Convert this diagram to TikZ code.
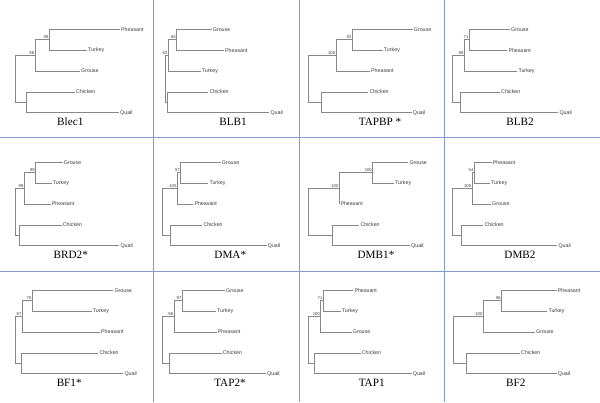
\documentclass[tikz,border=0pt]{standalone}
\usepackage{fontspec}
\setmainfont{Liberation Serif}
\newfontfamily\phsans{Liberation Sans}
\definecolor{gridc}{RGB}{130,155,205}
\definecolor{treec}{RGB}{135,135,135}
\definecolor{labc}{RGB}{60,60,60}
\def\phgetfour#1,#2,#3,#4\phend{\def\phxR{#1}\def\phxA{#2}\def\phxB{#3}\def\phxC{#4}}
\def\phgetfive#1,#2,#3,#4,#5\phend{\def\phtA{#1}\def\phtB{#2}\def\phtC{#3}\def\phtD{#4}\def\phtE{#5}}
\def\phgetthree#1,#2,#3\phend{\def\phnA{#1}\def\phnB{#2}\def\phnC{#3}}
\def\phgettwo#1,#2\phend{\def\phbB{#1}\def\phbA{#2}}
% #1 prefix, #2 top tip y, #3 {root,n1,n2,n3} x, #4 tip end x, #5 names, #6 {boot n2, boot n1}, #7 title, #8 title x
\newcommand\phylo[8]{%
  \phgetfour#3\phend \phgetfive#4\phend \phgetthree#5\phend \phgettwo#6\phend
  \pgfmathsetmacro\phyA{#2}
  \pgfmathsetmacro\phyB{#2+20.9}
  \pgfmathsetmacro\phyC{#2+41.7}
  \pgfmathsetmacro\phyD{#2+62.5}
  \pgfmathsetmacro\phyE{#2+83.4}
  \pgfmathsetmacro\phyNB{(\phyA+\phyB)/2}
  \pgfmathsetmacro\phyNA{(\phyNB+\phyC)/2}
  \pgfmathsetmacro\phyNC{(\phyD+\phyE)/2}
  \pgfmathsetmacro\phyR{(\phyNA+\phyNC)/2}
  \pgfmathsetmacro\phyT{#2+96.5}
  \node[tiplab] (#1a) at (\phtA,\phyA) {\phnA};
  \node[tiplab] (#1b) at (\phtB,\phyB) {\phnB};
  \node[tiplab] (#1c) at (\phtC,\phyC) {\phnC};
  \node[tiplab] (#1d) at (\phtD,\phyD) {Chicken};
  \node[tiplab] (#1e) at (\phtE,\phyE) {Quail};
  \coordinate (#1n2) at (\phxB,\phyNB);
  \coordinate (#1n1) at (\phxA,\phyNA);
  \coordinate (#1n3) at (\phxC,\phyNC);
  \coordinate (#1r) at (\phxR,\phyR);
  \draw[branch] (#1n2) |- (#1a.west);
  \draw[branch] (#1n2) |- (#1b.west);
  \draw[branch] (#1n1) |- (#1n2);
  \draw[branch] (#1n1) |- (#1c.west);
  \draw[branch] (#1n3) |- (#1d.west);
  \draw[branch] (#1n3) |- (#1e.west);
  \draw[branch] (#1r) |- (#1n1);
  \draw[branch] (#1r) |- (#1n3);
  \node[boot] (#1bb) at (#1n2) {\phbB};
  \node[boot] (#1ba) at (#1n1) {\phbA};
  \node[ttl] (#1t) at (#8,\phyT) {#7};
}
\begin{document}
\begin{tikzpicture}[x=1pt,y=-1pt,
  tiplab/.style={anchor=west,inner xsep=1pt,inner ysep=0.5pt,font=\phsans\fontsize{5.3}{6}\selectfont,text=labc},
  boot/.style={anchor=south east,inner sep=0.7pt,font=\phsans\fontsize{4.2}{5}\selectfont,text=labc},
  ttl/.style={anchor=base,inner sep=0pt,font=\fontsize{11.2}{13}\selectfont},
  branch/.style={draw=treec,line width=0.55pt},
  gridline/.style={draw=gridc,line width=0.9pt}]
\useasboundingbox (0,0) rectangle (600,402);
\fill[white] (0,0) rectangle (600,402);
\coordinate (v1t) at (153.5,0); \coordinate (v1b) at (153.5,402);
\coordinate (v2t) at (299.5,0); \coordinate (v2b) at (299.5,402);
\coordinate (v3t) at (444,0);   \coordinate (v3b) at (444,402);
\coordinate (h1l) at (0,137);   \coordinate (h1r) at (600,137);
\coordinate (h2l) at (0,271);   \coordinate (h2r) at (600,271);
\draw[gridline] (v1t) -- (v1b);
\draw[gridline] (v2t) -- (v2b);
\draw[gridline] (v3t) -- (v3b);
\draw[gridline] (h1l) -- (h1r);
\draw[gridline] (h2l) -- (h2r);
\phylo{p1}{29.3}{15,35,49.3,26}{120,87,80,75,119}{Pheasant,Turkey,Grouse}{98,98}{Blec1}{70.3}
\phylo{p2}{29.3}{165.7,168.3,176.7,167.3}{211.7,224,200.7,208.3,269.3}{Grouse,Pheasant,Turkey}{65,62}{BLB1}{233}
\phylo{p3}{29.3}{308,336,352.3,321.7}{412.7,382.7,370,368.3,411.7}{Grouse,Turkey,Pheasant}{92,100}{TAPBP *}{380}
\phylo{p4}{29.3}{452.7,464.3,469.3,460}{510,507.3,517.3,500,558.3}{Grouse,Pheasant,Turkey}{71,98}{BLB2}{520}
\phylo{p5}{162.3}{15.7,24.3,35.7,19.3}{62.7,51.7,50.7,61.7,119.3}{Grouse,Turkey,Pheasant}{99,99}{BRD2*}{70.8}
\phylo{p6}{162.3}{162.7,177.3,180.7,170.7}{220.7,208.3,193.3,202.3,266.7}{Grouse,Turkey,Pheasant}{57,100}{DMA*}{230.3}
\phylo{p7}{162.3}{308.3,339.3,372.7,332.3}{408.3,394,339.3,359.3,410}{Grouse,Turkey,Pheasant}{100,100}{DMB1*}{376}
\phylo{p8}{162.3}{452.7,472,474.3,461.7}{491.7,490,491,483.3,557.3}{Pheasant,Turkey,Grouse}{54,100}{DMB2}{520}
\phylo{p9}{290.3}{15,22.3,32.3,21.7}{113.3,91.7,100,98.3,123.3}{Grouse,Turkey,Pheasant}{70,87}{BF1*}{69.2}
\phylo{p10}{290.3}{162.3,174,182.3,169.3}{225,216,216.7,221.7,266}{Grouse,Turkey,Pheasant}{97,96}{TAP2*}{230}
\phylo{p11}{290.3}{308.3,320.7,323.3,314}{353.3,340.7,351.7,360.7,411.7}{Pheasant,Turkey,Grouse}{71,100}{TAP1}{371.7}
\phylo{p12}{290.3}{453.3,483.3,501.7,466}{556.7,547.3,535,520,556.7}{Pheasant,Turkey,Grouse}{96,100}{BF2}{515.8}
\end{tikzpicture}
\end{document}
